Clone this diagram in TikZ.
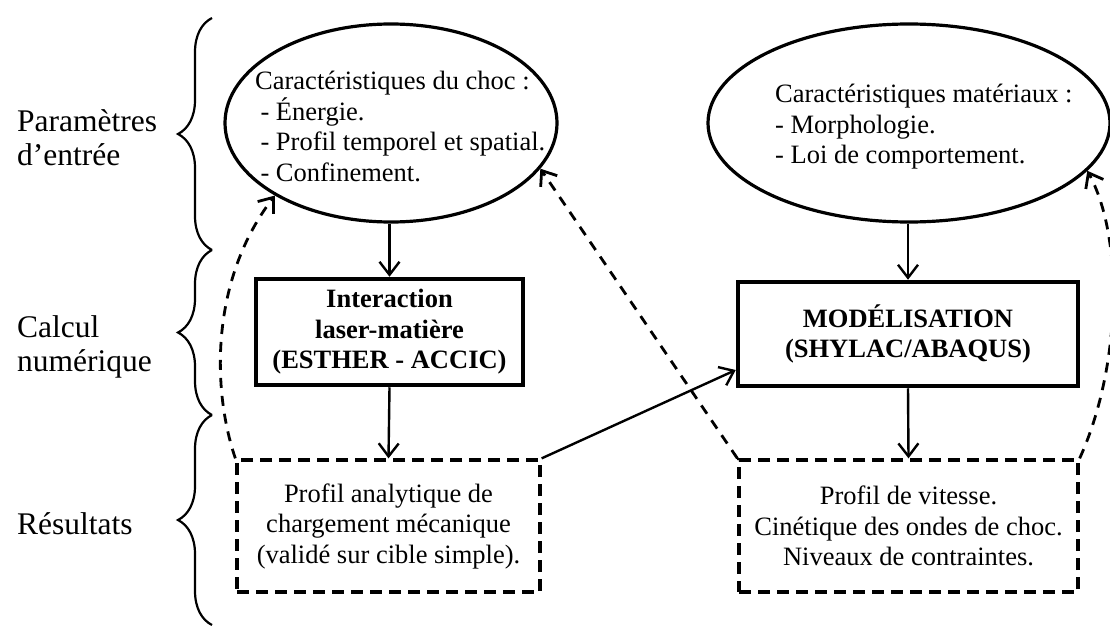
\documentclass[tikz,border=0pt]{standalone}
\usepackage{fontspec}
\setmainfont{Liberation Serif}
\usetikzlibrary{arrows.meta,shapes.geometric,decorations.pathreplacing,calc}
\begin{document}
\begin{tikzpicture}[x=1pt,y=-1pt]
\tikzset{
  lab/.style={font=\fontsize{31.5}{34}\selectfont, align=left, inner sep=0pt, anchor=north west},
  elltext/.style={font=\fontsize{26.5}{30.5}\selectfont, align=left, inner sep=0pt, anchor=north west},
  ell/.style={draw, ellipse, line width=3.2pt, inner sep=0pt},
  solidbox/.style={draw, rectangle, line width=4.5pt, inner sep=0pt, align=center, font=\fontsize{26.5}{30.5}\selectfont\bfseries},
  dashbox/.style={draw, rectangle, line width=3.3pt, dash pattern=on 12pt off 7pt, inner sep=0pt, align=center, font=\fontsize{26.5}{30.5}\selectfont},
  arr/.style={line width=2.4pt, -{Straight Barb[length=13pt,width=20pt]}},
  darr/.style={line width=2.8pt, dash pattern=on 10pt off 8pt, -{Straight Barb[length=13pt,width=20pt]}},
  brc/.style={decorate, decoration={brace, amplitude=34pt}, line width=2.2pt},
}
\useasboundingbox (0,0) rectangle (1110,626);

% braces
\coordinate (b1a) at (212,250); \coordinate (b1b) at (212,18);
\coordinate (b2a) at (212,415); \coordinate (b2b) at (212,250);
\coordinate (b3a) at (212,625); \coordinate (b3b) at (212,415);
\draw[brc] (b1a) -- (b1b);
\draw[brc] (b2a) -- (b2b);
\draw[brc] (b3a) -- (b3b);

% left labels
\node[lab] (l1) at (17,109.5) {Paramètres\\d’entrée};
\node[lab] (l2) at (17,315.5) {Calcul\\numérique};
\node[lab] (l3) at (17,512.5) {Résultats};

% ellipses
\node[ell, minimum width=332pt, minimum height=198pt] (e1) at (391,123) {};
\node[elltext] (t1) at (255,71) {Caractéristiques du choc :\\\hspace*{0.2em}- Énergie.\\\hspace*{0.2em}- Profil temporel et spatial.\\\hspace*{0.2em}- Confinement.};
\node[ell, minimum width=402pt, minimum height=198pt] (e2) at (909,123) {};
\node[elltext] (t2) at (775,84) {Caractéristiques matériaux :\\- Morphologie.\\- Loi de comportement.};

% solid boxes
\node[solidbox, minimum width=267pt, minimum height=106pt] (box1) at (389.5,332) {Interaction\\laser-matière\\(ESTHER - ACCIC)};
\node[solidbox, minimum width=340pt, minimum height=104pt] (box2) at (908,334) {MODÉLISATION\\(SHYLAC/ABAQUS)};

% dashed boxes
\node[dashbox, minimum width=303pt, minimum height=132pt] (d1) at (388.5,526) {Profil analytique de\\chargement mécanique\\(validé sur cible simple).};
\node[dashbox, minimum width=339pt, minimum height=132pt] (d2) at (908.5,526) {Profil de vitesse.\\Cinétique des ondes de choc.\\Niveaux de contraintes.};

% solid arrows
\draw[arr] (box1.north |- e1.south) -- (box1.north);
\draw[arr] (box1.south) -- (d1.north);
\draw[arr] (box2.north |- e2.south) -- (box2.north);
\draw[arr] (box2.south) -- (d2.north);
\draw[arr] (d1.north east) -- ($(box2.west)+(0,36)$);

% dashed feedback arrows
\draw[darr] (d1.north west) .. controls (212,390) and (210,280) .. (e1.212);
\draw[darr] (d2.north west) -- (e1.343);
\draw[darr] (d2.north east) .. controls (1120,370) and (1125,240) .. (e2.345);
\end{tikzpicture}
\end{document}
